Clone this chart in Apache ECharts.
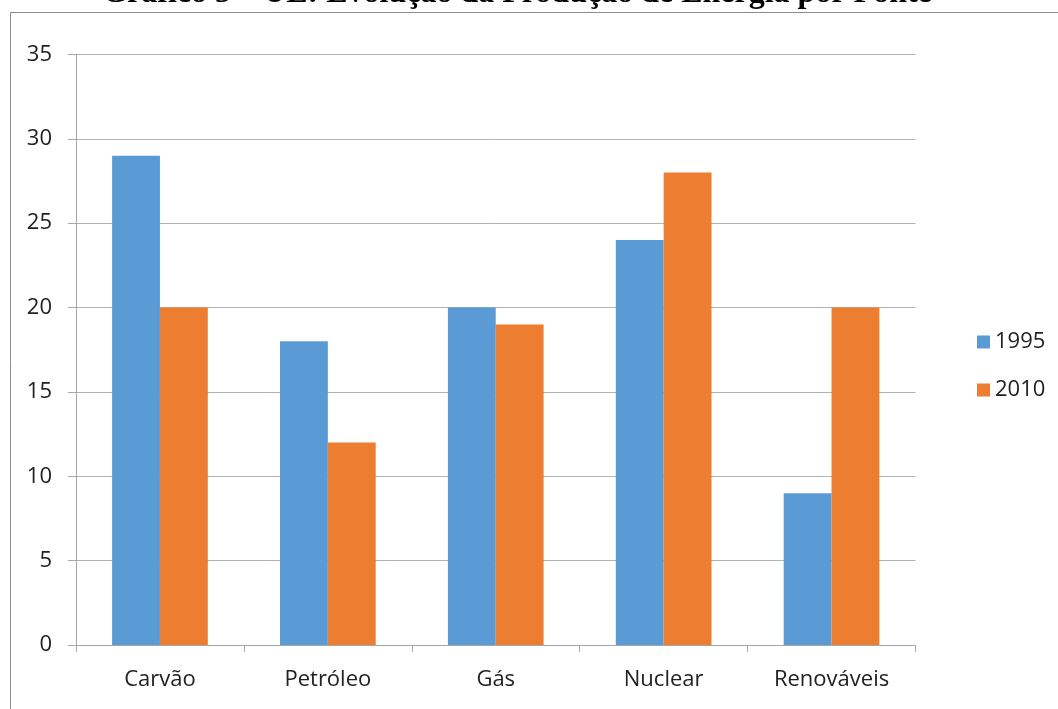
<!DOCTYPE html>
<html>
<head>
<meta charset="utf-8">
<script src="https://cdn.jsdelivr.net/npm/echarts@6/dist/echarts.min.js"></script>
<style>
  html, body { margin: 0; padding: 0; background: #fff; }
  #chart { width: 1058px; height: 709px; }
</style>
</head>
<body>
<div id="chart"></div>
<script>
// Energy production in the EU by source, 1995 vs 2010
const titleText = 'Gráfico 5 – UE: Evolução da Produção de Energia por Fonte';
const categories = ['Carvão', 'Petróleo', 'Gás', 'Nuclear', 'Renováveis'];
const seriesNames = ['1995', '2010'];
const values1995 = [29, 18, 20, 24, 9];
const values2010 = [20, 12, 19, 28, 20];
const colors = ['#5B9BD5', '#ED7D31'];

const chart = echarts.init(document.getElementById('chart'), null, { renderer: 'canvas' });
const labelFont = '"Open Sans", sans-serif';

chart.setOption({
  animation: false,
  backgroundColor: '#ffffff',
  color: colors,
  graphic: [
    {
      type: 'rect',
      shape: { x: 10.5, y: 12.5, width: 1100, height: 800 },
      style: { fill: 'none', stroke: '#8c8c8c', lineWidth: 1 },
      silent: true,
      z: 0
    },
    {
      type: 'text',
      x: 517,
      y: -6,
      style: {
        text: titleText,
        font: 'bold 32px "Liberation Serif", "Times New Roman", serif',
        fill: '#000',
        align: 'center',
        verticalAlign: 'middle'
      },
      silent: true,
      z: 10
    }
  ],
  legend: {
    orient: 'vertical',
    left: 972,
    top: 326,
    itemWidth: 13,
    itemHeight: 13,
    itemGap: 26,
    icon: 'rect',
    textStyle: { fontFamily: labelFont, fontSize: 22, color: '#222' },
    data: seriesNames
  },
  grid: { left: 76, right: 142.5, top: 54.5, bottom: 64, containLabel: false },
  xAxis: {
    type: 'category',
    data: categories,
    axisLine: { lineStyle: { color: '#a6a6a6', width: 1 } },
    axisTick: { show: true, length: 7, lineStyle: { color: '#a6a6a6' } },
    axisLabel: { fontFamily: labelFont, fontSize: 22, color: '#222', margin: 24 }
  },
  yAxis: {
    type: 'value',
    min: 0,
    max: 35,
    interval: 5,
    axisLine: { show: true, lineStyle: { color: '#a6a6a6', width: 1 } },
    axisTick: { show: true, length: 8, lineStyle: { color: '#a6a6a6' } },
    splitLine: { lineStyle: { color: '#b3b3b3', width: 1 } },
    axisLabel: { fontFamily: labelFont, fontSize: 22, color: '#222', margin: 24 }
  },
  series: [
    {
      name: seriesNames[0],
      type: 'bar',
      data: values1995,
      barGap: '0%',
      barCategoryGap: '43%',
      itemStyle: { color: colors[0] }
    },
    {
      name: seriesNames[1],
      type: 'bar',
      data: values2010,
      barGap: '0%',
      barCategoryGap: '43%',
      itemStyle: { color: colors[1] }
    }
  ]
});
</script>
</body>
</html>
